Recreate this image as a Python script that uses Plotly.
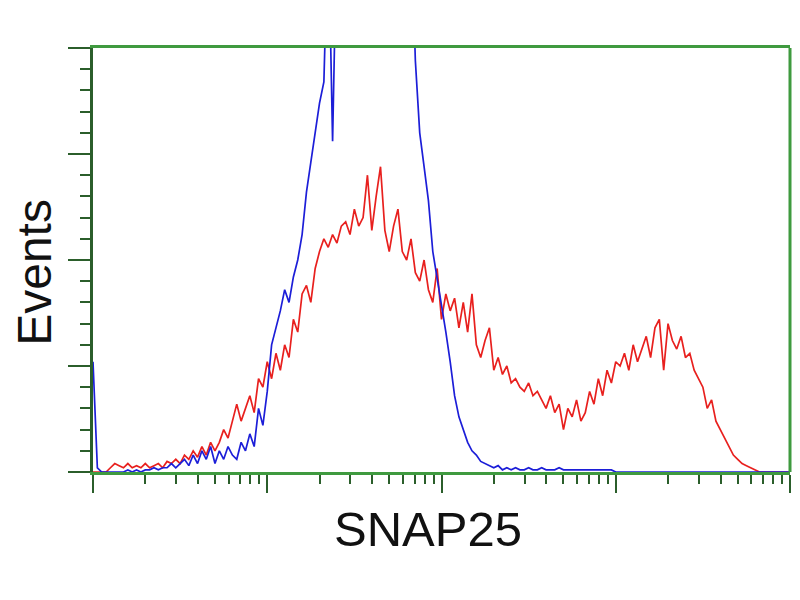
import numpy as np
import plotly.graph_objects as go

# channel grid: 161 channels spread over 4 log decades (10^0 .. 10^4)
channels = np.logspace(0, 4, 161)

blue_counts = [
    26, 1, 0, 0, 0, 0, 0, 0, 0.5, 0,
    0.5, 0, 0.5, 0.5, 1, 0.5, 1, 1, 2, 1,
    2, 3, 1.5, 4, 2, 5, 3, 6, 2, 5,
    3, 6, 4, 3, 7, 5, 9, 6, 15, 11,
    19, 30, 34, 38, 43, 40, 46, 50, 56, 66,
    73, 80, 87, 92, 130, 78, 130, 130, 130, 130,
    130, 130, 130, 130, 130, 130, 130, 130, 130, 130,
    130, 130, 130, 130, 97, 80, 72, 64, 52, 46,
    40, 33, 26, 18, 13, 10, 7, 5, 4, 2.5,
    2, 1.5, 1, 1.5, 0.5, 1, 0.5, 1, 0.5, 0.5,
    1, 0.5, 0.5, 1, 0.5, 0.5, 0.5, 1, 0.5, 0.5,
    0.5, 0.5, 0.5, 0.5, 0.5, 0.5, 0.5, 0.5, 0.5, 0.5,
    0, 0, 0, 0, 0, 0, 0, 0, 0, 0,
    0, 0, 0, 0, 0, 0, 0, 0, 0, 0,
    0, 0, 0, 0, 0, 0, 0, 0, 0, 0,
    0, 0, 0, 0, 0, 0, 0, 0, 0, 0,
    0,
]

red_counts = [
    0, 0, 0, 0, 1, 2, 1.5, 1, 2, 1,
    1.5, 1, 2, 1, 1.5, 2, 1, 2.5, 2, 3,
    2, 4, 3, 5, 3.5, 6, 4, 7, 5, 7,
    10, 8, 12, 16, 12, 15, 18, 14, 22, 20,
    26, 22, 28, 24, 30, 27, 36, 33, 42, 44,
    40, 48, 52, 55, 53, 56, 54, 58, 59, 56,
    62, 58, 60, 70, 57, 65, 72, 57, 52, 58,
    62, 52, 50, 55, 47, 45, 50, 43, 40, 48,
    36, 42, 38, 41, 34, 40, 33, 42, 30, 27,
    31, 34, 24, 27, 23, 25, 21, 22, 20, 19,
    21, 18, 19, 17, 15, 18, 14, 16, 10, 15,
    13, 17, 12, 14, 19, 16, 22, 18, 24, 21,
    26, 25, 28, 24, 30, 26, 29, 32, 27, 34,
    36, 24, 35, 31, 29, 32, 27, 28, 24, 22,
    20, 15, 17, 12, 10, 8, 6, 4, 3, 2,
    1.5, 1, 0.5, 0, 0, 0, 0, 0, 0, 0,
    0,
]

x_title = "SNAP25"
y_title = "Events"

fig = go.Figure()
fig.add_trace(go.Scatter(x=channels, y=red_counts, mode="lines",
                         line=dict(color="#e8201e", width=1.7), showlegend=False))
fig.add_trace(go.Scatter(x=channels, y=blue_counts, mode="lines",
                         line=dict(color="#1c1ed8", width=1.7), showlegend=False))

axis_green = "#3f9a3f"
dark_green = "#2b5e2b"

fig.update_xaxes(
    type="log", range=[0, 4], dtick=1,
    showticklabels=False, showgrid=False, zeroline=False,
    showline=True, linecolor=axis_green, linewidth=3, mirror=True,
    ticks="outside", ticklen=18, tickwidth=2, tickcolor=dark_green,
    minor=dict(ticks="outside", ticklen=9, tickwidth=2, tickcolor=dark_green,
               dtick="D1", showgrid=False),
)
fig.update_yaxes(
    range=[0, 100], dtick=25,
    showticklabels=False, showgrid=False, zeroline=False,
    showline=True, linecolor=dark_green, linewidth=3,
    ticks="outside", ticklen=22, tickwidth=2, tickcolor=dark_green,
    minor=dict(ticks="outside", ticklen=10, tickwidth=2, tickcolor=dark_green,
               dtick=5, showgrid=False),
)

# right border in green
fig.add_shape(type="line", xref="paper", yref="paper", x0=1, x1=1, y0=0, y1=1,
              line=dict(color=axis_green, width=3))

fig.add_annotation(text=x_title, xref="paper", yref="paper",
                   x=0.4806, y=-0.134, xanchor="center", yanchor="middle",
                   showarrow=False, font=dict(family="Liberation Sans, Arial", size=49, color="#111"))
fig.add_annotation(text=y_title, xref="paper", yref="paper",
                   x=-0.0835, y=0.4717, xanchor="center", yanchor="middle", textangle=-90,
                   borderpad=0,
                   showarrow=False, font=dict(family="Liberation Sans, Arial", size=48, color="#111"))

fig.update_layout(
    width=784, height=584,
    margin=dict(l=85, r=2, t=40, b=120),
    paper_bgcolor="white", plot_bgcolor="white",
)

fig.write_html("out.html")
